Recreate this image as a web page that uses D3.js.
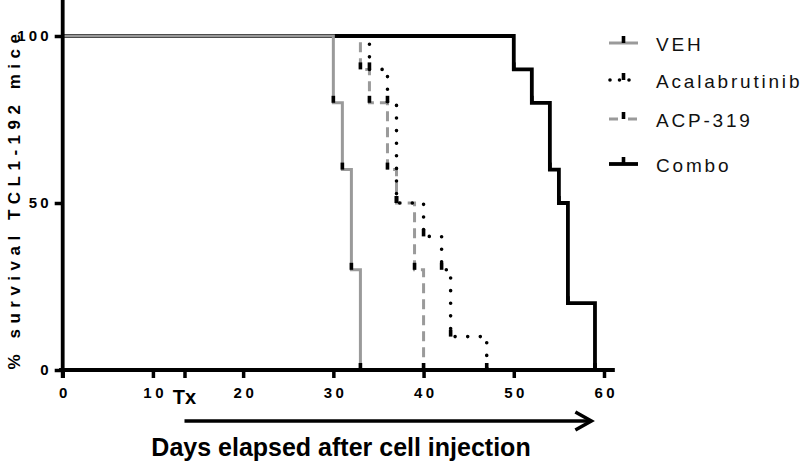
<!DOCTYPE html>
<html>
<head>
<meta charset="utf-8">
<script src="https://cdn.jsdelivr.net/npm/d3@7"></script>
<style>
body { margin: 0; background: #fff; }
text { font-family: "Liberation Sans", Arial, sans-serif; }
</style>
</head>
<body>
<svg width="800" height="462"></svg>
<script>
// survival data: day of each drop and % surviving after it
var vehDays = [30, 31, 32, 33];
var vehSurv = [80, 60, 30, 0];
var acalaDays = [34, 36, 37, 40, 42, 43, 47];
var acalaSurv = [90, 80, 50, 40, 30, 10, 0];
var acpDays = [33, 34, 36, 37, 39, 40];
var acpSurv = [90, 80, 60, 50, 30, 0];
var comboDays = [50, 52, 54, 55, 56, 59];
var comboSurv = [90, 80, 60, 50, 20, 0];

var groupNames = ['VEH', 'Acalabrutinib', 'ACP-319', 'Combo'];
var xTicks = [0, 10, 20, 30, 40, 50, 60];
var yTicks = [0, 50, 100];
var txDay = 13.5;

var svg = d3.select('svg');

var ScaleX = d3.scaleLinear().domain([0, 60]).range([62.7, 604]);
var ScaleY = d3.scaleLinear().domain([0, 100]).range([370, 36]);

function steps(days, surv) {
    var pts = [[0, 100]];
    days.forEach(function(d, i) { pts.push([d, surv[i]]); });
    return pts;
}

var line = d3.line()
    .x(function(d) { return ScaleX(d[0]); })
    .y(function(d) { return ScaleY(d[1]); })
    .curve(d3.curveStepAfter);

var series = [
    {name: groupNames[2], pts: steps(acpDays, acpSurv), color: '#9a9a9a', width: 3, dash: '10,6', legDash: '9,10', cap: 'butt'},
    {name: groupNames[1], pts: steps(acalaDays, acalaSurv), color: '#000', width: 3.6, dash: '0,12.6', legDash: '0,9.5', cap: 'round'},
    {name: groupNames[3], pts: steps(comboDays, comboSurv), color: '#000', width: 3.8, dash: null, legDash: null, cap: 'butt'},
    {name: groupNames[0], pts: steps(vehDays, vehSurv), color: '#9a9a9a', width: 3, dash: null, legDash: null, cap: 'butt'}
];

series.forEach(function(s) {
    svg.append('path')
        .attr('d', line(s.pts))
        .attr('fill', 'none')
        .attr('stroke', s.color)
        .attr('stroke-width', s.width)
        .attr('stroke-dasharray', s.dash)
        .attr('stroke-linecap', s.cap);
});

// little black tick symbols at each drop
series.forEach(function(s) {
    svg.selectAll(null)
        .data(s.pts.slice(1))
        .enter()
        .append('rect')
        .attr('x', function(d) { return ScaleX(d[0]) - 1.8; })
        .attr('y', function(d) { return ScaleY(d[1]) - 7; })
        .attr('width', 3.6)
        .attr('height', 7)
        .attr('fill', '#000');
});

// axes
var xAxis = svg.append('g')
    .attr('transform', 'translate(0,370)')
    .call(d3.axisBottom(ScaleX).tickValues(xTicks.concat([txDay])).tickSize(8).tickPadding(9)
        .tickFormat(function(d) { return d === txDay ? '' : d; }));
xAxis.select('.domain').remove();
xAxis.selectAll('line').attr('stroke', '#000').attr('stroke-width', 3.5);
xAxis.selectAll('text')
    .attr('font-size', 15)
    .attr('font-weight', 'bold')
    .attr('letter-spacing', 3.5)
    .attr('dx', 1.75)
    .attr('fill', '#000');

var yAxis = svg.append('g')
    .attr('transform', 'translate(62.7,0)')
    .call(d3.axisLeft(ScaleY).tickValues(yTicks).tickSize(8).tickPadding(6));
yAxis.select('.domain').remove();
yAxis.selectAll('line').attr('stroke', '#000').attr('stroke-width', 3.5);
yAxis.selectAll('text')
    .attr('font-size', 15)
    .attr('font-weight', 'bold')
    .attr('letter-spacing', 3.2)
    .attr('dx', 3.2)
    .attr('fill', '#000');

svg.append('line')
    .attr('x1', ScaleX(-0.4)).attr('x2', ScaleX(61.2))
    .attr('y1', ScaleY(0)).attr('y2', ScaleY(0))
    .attr('stroke', '#000').attr('stroke-width', 3.8);
svg.append('line')
    .attr('x1', ScaleX(0)).attr('x2', ScaleX(0))
    .attr('y1', 0).attr('y2', ScaleY(0) + 8)
    .attr('stroke', '#000').attr('stroke-width', 3.8);

// Tx label and treatment arrow
svg.append('text')
    .attr('x', ScaleX(txDay))
    .attr('y', 404)
    .attr('text-anchor', 'middle')
    .attr('font-size', 20)
    .attr('font-weight', 'bold')
    .text('Tx');

var arrowEnd = ScaleX(58.6);
svg.append('line')
    .attr('x1', ScaleX(txDay)).attr('x2', arrowEnd - 2)
    .attr('y1', 421).attr('y2', 421)
    .attr('stroke', '#000').attr('stroke-width', 3.5);
svg.append('path')
    .attr('d', 'M' + (arrowEnd - 16) + ',412 L' + arrowEnd + ',421 L' + (arrowEnd - 16) + ',430')
    .attr('fill', 'none')
    .attr('stroke', '#000')
    .attr('stroke-width', 3.5);

// axis titles
svg.append('text')
    .attr('x', 341)
    .attr('y', 456)
    .attr('text-anchor', 'middle')
    .attr('font-size', 25)
    .attr('font-weight', 'bold')
    .text('Days elapsed after cell injection');

svg.append('text')
    .attr('transform', 'translate(20,199) rotate(-90)')
    .attr('text-anchor', 'middle')
    .attr('font-size', 17)
    .attr('font-weight', 'bold')
    .attr('letter-spacing', 5.5)
    .text('% survival TCL1-192 mice');

// legend
var legendY = [43, 80, 119, 164];
var legendStyle = [series[3], series[1], series[0], series[2]];
legendStyle.forEach(function(s, i) {
    var g = svg.append('g').attr('transform', 'translate(609,' + legendY[i] + ')');
    g.append('line')
        .attr('x1', s.cap === 'round' ? 1 : 0).attr('x2', 29)
        .attr('y1', 0).attr('y2', 0)
        .attr('stroke', s.color)
        .attr('stroke-width', s.width)
        .attr('stroke-dasharray', s.legDash)
        .attr('stroke-linecap', s.cap);
    g.append('rect')
        .attr('x', 12.7).attr('y', -7)
        .attr('width', 3.6).attr('height', 7)
        .attr('fill', '#000');
    g.append('text')
        .attr('x', 47)
        .attr('y', 8)
        .attr('font-size', 19)
        .attr('letter-spacing', 2.8)
        .attr('fill', '#111')
        .text(groupNames[i]);
});
</script>
</body>
</html>
